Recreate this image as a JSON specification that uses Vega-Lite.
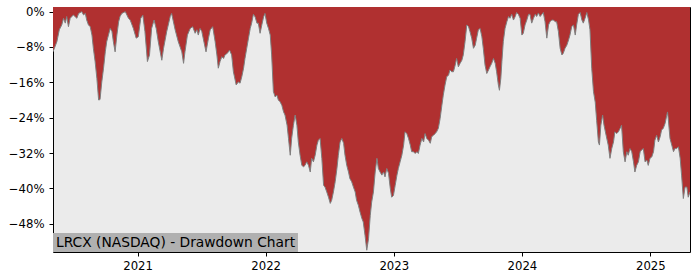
{
  "$schema": "https://vega.github.io/schema/vega-lite/v6.json",
  "width": 637,
  "height": 245,
  "autosize": {"type": "none"},
  "padding": {"left": 53, "top": 7, "right": 10, "bottom": 28},
  "background": "white",
  "config": {
    "view": {"fill": "#ebebeb", "stroke": "#000000", "strokeWidth": 1},
    "axis": {"domain": false, "grid": false, "ticks": true, "tickColor": "#000000", "tickSize": 4, "labelFont": "DejaVu Sans", "labelFontSize": 11.7, "labelColor": "#000000", "title": null}
  },
  "data": {"values": [
    {"date": "2020-05-05", "drawdown": -0.091},
    {"date": "2020-05-16", "drawdown": -0.068},
    {"date": "2020-05-23", "drawdown": -0.041},
    {"date": "2020-05-30", "drawdown": -0.030},
    {"date": "2020-06-04", "drawdown": -0.015},
    {"date": "2020-06-09", "drawdown": -0.026},
    {"date": "2020-06-13", "drawdown": -0.011},
    {"date": "2020-06-18", "drawdown": -0.034},
    {"date": "2020-06-23", "drawdown": -0.015},
    {"date": "2020-07-02", "drawdown": -0.0075},
    {"date": "2020-07-12", "drawdown": -0.015},
    {"date": "2020-07-17", "drawdown": -0.004},
    {"date": "2020-07-26", "drawdown": 0},
    {"date": "2020-07-31", "drawdown": -0.0075},
    {"date": "2020-08-05", "drawdown": -0.004},
    {"date": "2020-08-09", "drawdown": -0.019},
    {"date": "2020-08-14", "drawdown": -0.030},
    {"date": "2020-08-19", "drawdown": -0.034},
    {"date": "2020-08-24", "drawdown": -0.053},
    {"date": "2020-08-28", "drawdown": -0.083},
    {"date": "2020-09-02", "drawdown": -0.113},
    {"date": "2020-09-07", "drawdown": -0.151},
    {"date": "2020-09-12", "drawdown": -0.200},
    {"date": "2020-09-16", "drawdown": -0.199},
    {"date": "2020-09-21", "drawdown": -0.159},
    {"date": "2020-09-26", "drawdown": -0.128},
    {"date": "2020-10-01", "drawdown": -0.091},
    {"date": "2020-10-05", "drawdown": -0.068},
    {"date": "2020-10-10", "drawdown": -0.053},
    {"date": "2020-10-15", "drawdown": -0.038},
    {"date": "2020-10-20", "drawdown": -0.045},
    {"date": "2020-10-24", "drawdown": -0.068},
    {"date": "2020-10-29", "drawdown": -0.091},
    {"date": "2020-11-03", "drawdown": -0.053},
    {"date": "2020-11-08", "drawdown": -0.023},
    {"date": "2020-11-12", "drawdown": -0.011},
    {"date": "2020-11-17", "drawdown": -0.004},
    {"date": "2020-11-27", "drawdown": 0},
    {"date": "2020-12-06", "drawdown": -0.015},
    {"date": "2020-12-11", "drawdown": -0.019},
    {"date": "2020-12-20", "drawdown": -0.038},
    {"date": "2020-12-28", "drawdown": -0.060},
    {"date": "2021-01-03", "drawdown": -0.057},
    {"date": "2021-01-10", "drawdown": -0.015},
    {"date": "2021-01-16", "drawdown": -0.008},
    {"date": "2021-01-22", "drawdown": -0.045},
    {"date": "2021-01-29", "drawdown": -0.113},
    {"date": "2021-02-04", "drawdown": -0.098},
    {"date": "2021-02-10", "drawdown": -0.038},
    {"date": "2021-02-17", "drawdown": -0.019},
    {"date": "2021-02-23", "drawdown": -0.038},
    {"date": "2021-03-01", "drawdown": -0.068},
    {"date": "2021-03-11", "drawdown": -0.110},
    {"date": "2021-03-16", "drawdown": -0.083},
    {"date": "2021-03-25", "drawdown": -0.045},
    {"date": "2021-04-04", "drawdown": -0.011},
    {"date": "2021-04-08", "drawdown": -0.004},
    {"date": "2021-04-18", "drawdown": -0.041},
    {"date": "2021-04-27", "drawdown": -0.068},
    {"date": "2021-05-07", "drawdown": -0.091},
    {"date": "2021-05-12", "drawdown": -0.117},
    {"date": "2021-05-16", "drawdown": -0.091},
    {"date": "2021-05-23", "drawdown": -0.053},
    {"date": "2021-05-31", "drawdown": -0.038},
    {"date": "2021-06-07", "drawdown": -0.034},
    {"date": "2021-06-14", "drawdown": -0.049},
    {"date": "2021-06-19", "drawdown": -0.041},
    {"date": "2021-06-23", "drawdown": -0.053},
    {"date": "2021-06-28", "drawdown": -0.038},
    {"date": "2021-07-03", "drawdown": -0.045},
    {"date": "2021-07-10", "drawdown": -0.072},
    {"date": "2021-07-15", "drawdown": -0.091},
    {"date": "2021-07-22", "drawdown": -0.060},
    {"date": "2021-07-27", "drawdown": -0.041},
    {"date": "2021-08-03", "drawdown": -0.034},
    {"date": "2021-08-10", "drawdown": -0.068},
    {"date": "2021-08-15", "drawdown": -0.098},
    {"date": "2021-08-19", "drawdown": -0.128},
    {"date": "2021-08-24", "drawdown": -0.113},
    {"date": "2021-08-29", "drawdown": -0.102},
    {"date": "2021-09-03", "drawdown": -0.106},
    {"date": "2021-09-07", "drawdown": -0.098},
    {"date": "2021-09-14", "drawdown": -0.094},
    {"date": "2021-09-20", "drawdown": -0.087},
    {"date": "2021-09-26", "drawdown": -0.098},
    {"date": "2021-10-01", "drawdown": -0.136},
    {"date": "2021-10-09", "drawdown": -0.166},
    {"date": "2021-10-15", "drawdown": -0.159},
    {"date": "2021-10-20", "drawdown": -0.162},
    {"date": "2021-10-25", "drawdown": -0.147},
    {"date": "2021-10-30", "drawdown": -0.128},
    {"date": "2021-11-03", "drawdown": -0.106},
    {"date": "2021-11-08", "drawdown": -0.083},
    {"date": "2021-11-13", "drawdown": -0.060},
    {"date": "2021-11-18", "drawdown": -0.038},
    {"date": "2021-11-22", "drawdown": -0.026},
    {"date": "2021-11-27", "drawdown": -0.006},
    {"date": "2021-12-02", "drawdown": -0.012},
    {"date": "2021-12-07", "drawdown": -0.026},
    {"date": "2021-12-11", "drawdown": -0.026},
    {"date": "2021-12-16", "drawdown": -0.049},
    {"date": "2021-12-21", "drawdown": -0.030},
    {"date": "2021-12-26", "drawdown": -0.012},
    {"date": "2021-12-30", "drawdown": -0.004},
    {"date": "2022-01-04", "drawdown": -0.026},
    {"date": "2022-01-09", "drawdown": -0.038},
    {"date": "2022-01-14", "drawdown": -0.053},
    {"date": "2022-01-18", "drawdown": -0.098},
    {"date": "2022-01-23", "drawdown": -0.181},
    {"date": "2022-01-28", "drawdown": -0.193},
    {"date": "2022-02-02", "drawdown": -0.189},
    {"date": "2022-02-06", "drawdown": -0.200},
    {"date": "2022-02-11", "drawdown": -0.204},
    {"date": "2022-02-16", "drawdown": -0.212},
    {"date": "2022-02-21", "drawdown": -0.227},
    {"date": "2022-02-25", "drawdown": -0.234},
    {"date": "2022-03-03", "drawdown": -0.257},
    {"date": "2022-03-07", "drawdown": -0.287},
    {"date": "2022-03-12", "drawdown": -0.325},
    {"date": "2022-03-16", "drawdown": -0.287},
    {"date": "2022-03-21", "drawdown": -0.257},
    {"date": "2022-03-26", "drawdown": -0.234},
    {"date": "2022-03-31", "drawdown": -0.257},
    {"date": "2022-04-04", "drawdown": -0.295},
    {"date": "2022-04-09", "drawdown": -0.325},
    {"date": "2022-04-14", "drawdown": -0.348},
    {"date": "2022-04-19", "drawdown": -0.351},
    {"date": "2022-04-23", "drawdown": -0.348},
    {"date": "2022-04-28", "drawdown": -0.340},
    {"date": "2022-05-03", "drawdown": -0.348},
    {"date": "2022-05-08", "drawdown": -0.363},
    {"date": "2022-05-12", "drawdown": -0.332},
    {"date": "2022-05-17", "drawdown": -0.340},
    {"date": "2022-05-22", "drawdown": -0.325},
    {"date": "2022-05-27", "drawdown": -0.302},
    {"date": "2022-05-31", "drawdown": -0.291},
    {"date": "2022-06-05", "drawdown": -0.287},
    {"date": "2022-06-10", "drawdown": -0.332},
    {"date": "2022-06-15", "drawdown": -0.393},
    {"date": "2022-06-19", "drawdown": -0.397},
    {"date": "2022-06-24", "drawdown": -0.408},
    {"date": "2022-06-29", "drawdown": -0.420},
    {"date": "2022-07-04", "drawdown": -0.434},
    {"date": "2022-07-08", "drawdown": -0.427},
    {"date": "2022-07-13", "drawdown": -0.408},
    {"date": "2022-07-18", "drawdown": -0.385},
    {"date": "2022-07-23", "drawdown": -0.355},
    {"date": "2022-07-27", "drawdown": -0.325},
    {"date": "2022-08-01", "drawdown": -0.295},
    {"date": "2022-08-06", "drawdown": -0.287},
    {"date": "2022-08-11", "drawdown": -0.298},
    {"date": "2022-08-15", "drawdown": -0.325},
    {"date": "2022-08-20", "drawdown": -0.348},
    {"date": "2022-08-25", "drawdown": -0.363},
    {"date": "2022-08-29", "drawdown": -0.378},
    {"date": "2022-09-03", "drawdown": -0.385},
    {"date": "2022-09-08", "drawdown": -0.397},
    {"date": "2022-09-13", "drawdown": -0.408},
    {"date": "2022-09-17", "drawdown": -0.427},
    {"date": "2022-09-22", "drawdown": -0.438},
    {"date": "2022-09-27", "drawdown": -0.454},
    {"date": "2022-10-02", "drawdown": -0.468},
    {"date": "2022-10-06", "drawdown": -0.476},
    {"date": "2022-10-11", "drawdown": -0.506},
    {"date": "2022-10-16", "drawdown": -0.540},
    {"date": "2022-10-21", "drawdown": -0.514},
    {"date": "2022-10-26", "drawdown": -0.461},
    {"date": "2022-10-30", "drawdown": -0.431},
    {"date": "2022-11-04", "drawdown": -0.408},
    {"date": "2022-11-09", "drawdown": -0.363},
    {"date": "2022-11-14", "drawdown": -0.332},
    {"date": "2022-11-18", "drawdown": -0.355},
    {"date": "2022-11-23", "drawdown": -0.363},
    {"date": "2022-11-28", "drawdown": -0.370},
    {"date": "2022-12-03", "drawdown": -0.363},
    {"date": "2022-12-07", "drawdown": -0.374},
    {"date": "2022-12-12", "drawdown": -0.355},
    {"date": "2022-12-17", "drawdown": -0.366},
    {"date": "2022-12-22", "drawdown": -0.400},
    {"date": "2022-12-26", "drawdown": -0.420},
    {"date": "2022-12-31", "drawdown": -0.416},
    {"date": "2023-01-05", "drawdown": -0.393},
    {"date": "2023-01-10", "drawdown": -0.370},
    {"date": "2023-01-14", "drawdown": -0.355},
    {"date": "2023-01-19", "drawdown": -0.340},
    {"date": "2023-01-24", "drawdown": -0.325},
    {"date": "2023-01-29", "drawdown": -0.302},
    {"date": "2023-02-02", "drawdown": -0.272},
    {"date": "2023-02-07", "drawdown": -0.276},
    {"date": "2023-02-12", "drawdown": -0.287},
    {"date": "2023-02-17", "drawdown": -0.302},
    {"date": "2023-02-21", "drawdown": -0.317},
    {"date": "2023-02-26", "drawdown": -0.317},
    {"date": "2023-03-03", "drawdown": -0.321},
    {"date": "2023-03-08", "drawdown": -0.317},
    {"date": "2023-03-12", "drawdown": -0.321},
    {"date": "2023-03-17", "drawdown": -0.302},
    {"date": "2023-03-22", "drawdown": -0.287},
    {"date": "2023-03-27", "drawdown": -0.295},
    {"date": "2023-03-31", "drawdown": -0.276},
    {"date": "2023-04-05", "drawdown": -0.287},
    {"date": "2023-04-10", "drawdown": -0.291},
    {"date": "2023-04-15", "drawdown": -0.298},
    {"date": "2023-04-19", "drawdown": -0.283},
    {"date": "2023-04-24", "drawdown": -0.280},
    {"date": "2023-04-29", "drawdown": -0.276},
    {"date": "2023-05-03", "drawdown": -0.272},
    {"date": "2023-05-08", "drawdown": -0.264},
    {"date": "2023-05-13", "drawdown": -0.242},
    {"date": "2023-05-18", "drawdown": -0.212},
    {"date": "2023-05-22", "drawdown": -0.189},
    {"date": "2023-05-27", "drawdown": -0.166},
    {"date": "2023-06-01", "drawdown": -0.147},
    {"date": "2023-06-06", "drawdown": -0.144},
    {"date": "2023-06-10", "drawdown": -0.132},
    {"date": "2023-06-15", "drawdown": -0.136},
    {"date": "2023-06-20", "drawdown": -0.136},
    {"date": "2023-06-25", "drawdown": -0.121},
    {"date": "2023-06-29", "drawdown": -0.106},
    {"date": "2023-07-04", "drawdown": -0.125},
    {"date": "2023-07-09", "drawdown": -0.117},
    {"date": "2023-07-14", "drawdown": -0.110},
    {"date": "2023-07-18", "drawdown": -0.098},
    {"date": "2023-07-23", "drawdown": -0.068},
    {"date": "2023-07-28", "drawdown": -0.030},
    {"date": "2023-08-02", "drawdown": -0.034},
    {"date": "2023-08-06", "drawdown": -0.045},
    {"date": "2023-08-11", "drawdown": -0.060},
    {"date": "2023-08-16", "drawdown": -0.083},
    {"date": "2023-08-21", "drawdown": -0.076},
    {"date": "2023-08-25", "drawdown": -0.060},
    {"date": "2023-08-30", "drawdown": -0.041},
    {"date": "2023-09-04", "drawdown": -0.038},
    {"date": "2023-09-09", "drawdown": -0.057},
    {"date": "2023-09-13", "drawdown": -0.083},
    {"date": "2023-09-18", "drawdown": -0.121},
    {"date": "2023-09-23", "drawdown": -0.140},
    {"date": "2023-09-28", "drawdown": -0.132},
    {"date": "2023-10-02", "drawdown": -0.125},
    {"date": "2023-10-07", "drawdown": -0.117},
    {"date": "2023-10-12", "drawdown": -0.106},
    {"date": "2023-10-17", "drawdown": -0.117},
    {"date": "2023-10-21", "drawdown": -0.136},
    {"date": "2023-10-26", "drawdown": -0.166},
    {"date": "2023-10-29", "drawdown": -0.178},
    {"date": "2023-11-02", "drawdown": -0.151},
    {"date": "2023-11-05", "drawdown": -0.113},
    {"date": "2023-11-09", "drawdown": -0.068},
    {"date": "2023-11-14", "drawdown": -0.038},
    {"date": "2023-11-19", "drawdown": -0.023},
    {"date": "2023-11-24", "drawdown": -0.011},
    {"date": "2023-11-28", "drawdown": -0.015},
    {"date": "2023-12-03", "drawdown": -0.006},
    {"date": "2023-12-08", "drawdown": -0.019},
    {"date": "2023-12-13", "drawdown": -0.011},
    {"date": "2023-12-17", "drawdown": -0.002},
    {"date": "2023-12-22", "drawdown": -0.006},
    {"date": "2023-12-27", "drawdown": -0.015},
    {"date": "2024-01-01", "drawdown": -0.053},
    {"date": "2024-01-05", "drawdown": -0.049},
    {"date": "2024-01-10", "drawdown": -0.030},
    {"date": "2024-01-15", "drawdown": -0.019},
    {"date": "2024-01-20", "drawdown": -0.006},
    {"date": "2024-01-24", "drawdown": -0.006},
    {"date": "2024-01-29", "drawdown": -0.026},
    {"date": "2024-02-03", "drawdown": -0.015},
    {"date": "2024-02-08", "drawdown": -0.006},
    {"date": "2024-02-12", "drawdown": -0.011},
    {"date": "2024-02-17", "drawdown": -0.003},
    {"date": "2024-02-22", "drawdown": -0.011},
    {"date": "2024-02-27", "drawdown": -0.006},
    {"date": "2024-03-02", "drawdown": -0.002},
    {"date": "2024-03-07", "drawdown": -0.023},
    {"date": "2024-03-12", "drawdown": -0.060},
    {"date": "2024-03-17", "drawdown": -0.030},
    {"date": "2024-03-21", "drawdown": -0.023},
    {"date": "2024-03-26", "drawdown": -0.019},
    {"date": "2024-03-31", "drawdown": -0.019},
    {"date": "2024-04-05", "drawdown": -0.023},
    {"date": "2024-04-09", "drawdown": -0.023},
    {"date": "2024-04-14", "drawdown": -0.045},
    {"date": "2024-04-19", "drawdown": -0.083},
    {"date": "2024-04-24", "drawdown": -0.098},
    {"date": "2024-04-28", "drawdown": -0.094},
    {"date": "2024-05-03", "drawdown": -0.083},
    {"date": "2024-05-08", "drawdown": -0.076},
    {"date": "2024-05-13", "drawdown": -0.064},
    {"date": "2024-05-17", "drawdown": -0.053},
    {"date": "2024-05-22", "drawdown": -0.034},
    {"date": "2024-05-27", "drawdown": -0.030},
    {"date": "2024-06-01", "drawdown": -0.053},
    {"date": "2024-06-05", "drawdown": -0.030},
    {"date": "2024-06-10", "drawdown": -0.006},
    {"date": "2024-06-15", "drawdown": -0.002},
    {"date": "2024-06-20", "drawdown": -0.019},
    {"date": "2024-06-24", "drawdown": -0.026},
    {"date": "2024-06-29", "drawdown": -0.015},
    {"date": "2024-07-04", "drawdown": -0.002},
    {"date": "2024-07-09", "drawdown": -0.019},
    {"date": "2024-07-13", "drawdown": -0.041},
    {"date": "2024-07-18", "drawdown": -0.128},
    {"date": "2024-07-23", "drawdown": -0.181},
    {"date": "2024-07-28", "drawdown": -0.205},
    {"date": "2024-08-01", "drawdown": -0.246},
    {"date": "2024-08-06", "drawdown": -0.295},
    {"date": "2024-08-09", "drawdown": -0.302},
    {"date": "2024-08-13", "drawdown": -0.257},
    {"date": "2024-08-18", "drawdown": -0.234},
    {"date": "2024-08-22", "drawdown": -0.257},
    {"date": "2024-08-28", "drawdown": -0.280},
    {"date": "2024-09-03", "drawdown": -0.302},
    {"date": "2024-09-08", "drawdown": -0.332},
    {"date": "2024-09-13", "drawdown": -0.310},
    {"date": "2024-09-18", "drawdown": -0.295},
    {"date": "2024-09-22", "drawdown": -0.272},
    {"date": "2024-09-27", "drawdown": -0.276},
    {"date": "2024-10-02", "drawdown": -0.272},
    {"date": "2024-10-07", "drawdown": -0.264},
    {"date": "2024-10-11", "drawdown": -0.257},
    {"date": "2024-10-16", "drawdown": -0.317},
    {"date": "2024-10-21", "drawdown": -0.340},
    {"date": "2024-10-26", "drawdown": -0.317},
    {"date": "2024-10-30", "drawdown": -0.325},
    {"date": "2024-11-04", "drawdown": -0.310},
    {"date": "2024-11-09", "drawdown": -0.317},
    {"date": "2024-11-14", "drawdown": -0.340},
    {"date": "2024-11-18", "drawdown": -0.363},
    {"date": "2024-11-23", "drawdown": -0.348},
    {"date": "2024-11-28", "drawdown": -0.340},
    {"date": "2024-12-03", "drawdown": -0.317},
    {"date": "2024-12-07", "drawdown": -0.313},
    {"date": "2024-12-12", "drawdown": -0.310},
    {"date": "2024-12-17", "drawdown": -0.340},
    {"date": "2024-12-22", "drawdown": -0.336},
    {"date": "2024-12-26", "drawdown": -0.348},
    {"date": "2024-12-31", "drawdown": -0.332},
    {"date": "2025-01-05", "drawdown": -0.329},
    {"date": "2025-01-10", "drawdown": -0.317},
    {"date": "2025-01-14", "drawdown": -0.291},
    {"date": "2025-01-19", "drawdown": -0.280},
    {"date": "2025-01-24", "drawdown": -0.295},
    {"date": "2025-01-29", "drawdown": -0.283},
    {"date": "2025-02-02", "drawdown": -0.268},
    {"date": "2025-02-07", "drawdown": -0.264},
    {"date": "2025-02-12", "drawdown": -0.253},
    {"date": "2025-02-17", "drawdown": -0.234},
    {"date": "2025-02-19", "drawdown": -0.227},
    {"date": "2025-02-21", "drawdown": -0.242},
    {"date": "2025-02-26", "drawdown": -0.287},
    {"date": "2025-03-03", "drawdown": -0.302},
    {"date": "2025-03-08", "drawdown": -0.317},
    {"date": "2025-03-12", "drawdown": -0.310},
    {"date": "2025-03-17", "drawdown": -0.310},
    {"date": "2025-03-22", "drawdown": -0.306},
    {"date": "2025-03-27", "drawdown": -0.332},
    {"date": "2025-03-31", "drawdown": -0.370},
    {"date": "2025-04-05", "drawdown": -0.423},
    {"date": "2025-04-10", "drawdown": -0.397},
    {"date": "2025-04-15", "drawdown": -0.397},
    {"date": "2025-04-19", "drawdown": -0.420},
    {"date": "2025-04-24", "drawdown": -0.408}
  ]},
  "layer": [
    {
      "mark": {"type": "area", "color": "#b03030", "clip": true},
      "encoding": {
        "x": {
          "field": "date", "type": "temporal",
          "scale": {"type": "utc", "domain": [{"year": 2020, "month": 5, "date": 5, "utc": true}, {"year": 2025, "month": 4, "date": 24, "utc": true}]},
          "axis": {
            "values": [
              {"year": 2021, "month": 1, "date": 1, "utc": true},
              {"year": 2022, "month": 1, "date": 1, "utc": true},
              {"year": 2023, "month": 1, "date": 1, "utc": true},
              {"year": 2024, "month": 1, "date": 1, "utc": true},
              {"year": 2025, "month": 1, "date": 1, "utc": true}
            ],
            "format": "%Y", "labelPadding": 4, "labelFlush": false
          }
        },
        "y": {
          "field": "drawdown", "type": "quantitative",
          "scale": {"domain": [-0.544, 0.0105], "nice": false, "zero": false},
          "axis": {"values": [0, -0.08, -0.16, -0.24, -0.32, -0.40, -0.48], "format": ".0%", "labelPadding": 5}
        },
        "y2": {"datum": 0.0105}
      }
    },
    {
      "mark": {"type": "line", "color": "#7f7f7f", "strokeWidth": 1, "clip": true},
      "encoding": {
        "x": {"field": "date", "type": "temporal"},
        "y": {"field": "drawdown", "type": "quantitative"}
      }
    },
    {
      "data": {"values": [{"label": "LRCX (NASDAQ) - Drawdown Chart"}]},
      "mark": {"type": "rect", "color": "#b0b0b0", "clip": true},
      "encoding": {
        "x": {"datum": {"year": 2020, "month": 5, "date": 5, "utc": true}, "type": "temporal"},
        "x2": {"datum": {"year": 2022, "month": 4, "date": 3, "utc": true}},
        "y": {"datum": -0.544, "type": "quantitative"},
        "y2": {"datum": -0.501}
      }
    },
    {
      "data": {"values": [{"label": "LRCX (NASDAQ) - Drawdown Chart"}]},
      "mark": {"type": "text", "align": "left", "baseline": "alphabetic", "dx": 3, "font": "DejaVu Sans", "fontSize": 13.8, "color": "#000000"},
      "encoding": {
        "x": {"datum": {"year": 2020, "month": 5, "date": 5, "utc": true}, "type": "temporal"},
        "y": {"datum": -0.533, "type": "quantitative"},
        "text": {"field": "label"}
      }
    }
  ]
}
